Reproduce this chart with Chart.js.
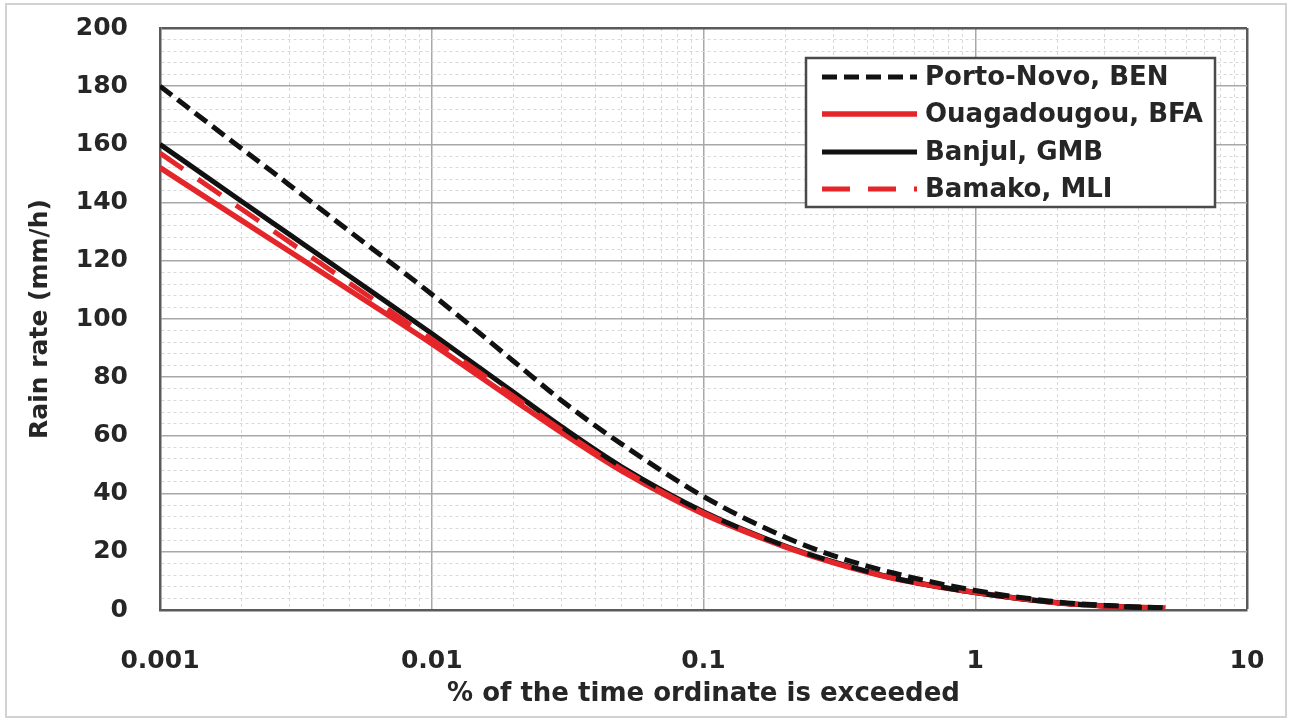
<!DOCTYPE html>
<html>
<head>
<meta charset="utf-8">
<script src="https://cdn.jsdelivr.net/npm/chart.js@4/dist/chart.umd.min.js"></script>
<style>
  html, body { margin: 0; padding: 0; background: #fff; }
  #wrap { width: 1293px; height: 722px; }
</style>
</head>
<body>
<div id="wrap"><canvas id="rainChart" width="1293" height="722"></canvas></div>
<script>
// values
var percent = [0.001, 0.002, 0.003, 0.005, 0.01, 0.02, 0.03, 0.05, 0.1, 0.2, 0.3, 0.5, 1, 2, 3, 5];
var portoNovo = [180, 158.5, 146, 130, 108.5, 85.5, 72, 57, 39, 25, 18.7, 12.7, 6.7, 2.8, 1.6, 0.7];
var ouagadougou = [152, 133.8, 123.2, 109.8, 91.5, 72.2, 61, 47.8, 33, 21.7, 16.3, 10.9, 6, 2.5, 1.4, 0.6];
var banjul = [160, 140.4, 129, 114.6, 95, 74.8, 63, 49.2, 33.8, 22, 16.6, 11, 6, 2.5, 1.4, 0.6];
var bamako = [157, 137.7, 126.4, 112.2, 93, 73.4, 61.9, 48.4, 33.4, 21.8, 16.4, 10.9, 6, 2.5, 1.4, 0.6];

var decades = [0.001, 0.01, 0.1, 1, 10];
var minorSteps = [1, 2, 3, 4, 5, 6, 7, 8, 9];

var fontFamily = '"DejaVu Sans", sans-serif';
var textColor = '#262626';
var red = '#e4262b';

function toPoints(values) {
  return percent.map(function (p, i) { return { x: p, y: values[i] }; });
}

var xTickValues = [];
decades.forEach(function (d, i) {
  if (i === decades.length - 1) { xTickValues.push(d); return; }
  minorSteps.forEach(function (m) { xTickValues.push(+(d * m).toPrecision(3)); });
});

function isDecade(v) { return decades.indexOf(v) !== -1; }

// outer frame of the picture
var framePlugin = {
  id: 'frame',
  beforeDraw: function (chart) {
    var ctx = chart.ctx;
    ctx.save();
    ctx.fillStyle = '#fff';
    ctx.fillRect(0, 0, chart.width, chart.height);
    ctx.strokeStyle = '#d2d2d2';
    ctx.lineWidth = 2;
    ctx.strokeRect(6, 4, chart.width - 13, chart.height - 9);
    ctx.restore();
  }
};

// legend box inside the plot
var legendOrder = [0, 1, 2, 3];
var boxLegend = {
  id: 'boxLegend',
  afterDraw: function (chart) {
    var ctx = chart.ctx;
    var left = 806, top = 58, width = 409, height = 149;
    var rowY = [77, 114, 152, 189];
    ctx.save();
    ctx.fillStyle = '#fff';
    ctx.fillRect(left, top, width, height);
    ctx.strokeStyle = '#4a4a4a';
    ctx.lineWidth = 2.5;
    ctx.strokeRect(left, top, width, height);
    legendOrder.forEach(function (di, r) {
      var ds = chart.data.datasets[di];
      ctx.beginPath();
      ctx.setLineDash(ds.borderDash || []);
      ctx.lineWidth = ds.borderWidth;
      ctx.strokeStyle = ds.borderColor;
      ctx.lineCap = 'butt';
      ctx.moveTo(822, rowY[r]);
      ctx.lineTo(917, rowY[r]);
      ctx.stroke();
      ctx.setLineDash([]);
      ctx.fillStyle = textColor;
      ctx.font = 'bold 26px ' + fontFamily;
      ctx.textBaseline = 'middle';
      ctx.textAlign = 'left';
      ctx.fillText(ds.label, 925, rowY[r] + 1);
    });
    ctx.restore();
  }
};

var ctx = document.getElementById('rainChart');
var rainChart = new Chart(ctx, {
  type: 'line',
  data: {
    datasets: [{
      label: 'Porto-Novo, BEN',
      data: toPoints(portoNovo),
      borderColor: '#111',
      borderWidth: 5,
      borderDash: [15, 7],
      order: 0
    }, {
      label: 'Ouagadougou, BFA',
      data: toPoints(ouagadougou),
      borderColor: red,
      borderWidth: 5.5,
      order: 3
    }, {
      label: 'Banjul, GMB',
      data: toPoints(banjul),
      borderColor: '#111',
      borderWidth: 5,
      order: 2
    }, {
      label: 'Bamako, MLI',
      data: toPoints(bamako),
      borderColor: red,
      borderWidth: 5,
      borderDash: [28, 18],
      order: 1
    }]
  },
  options: {
    responsive: false,
    animation: false,
    events: [],
    elements: {
      point: { radius: 0 },
      line: { cubicInterpolationMode: 'monotone', fill: false }
    },
    layout: { padding: { top: 28, right: 46, left: 0, bottom: 0 } },
    plugins: {
      legend: { display: false },
      tooltip: { enabled: false }
    },
    scales: {
      x: {
        type: 'logarithmic',
        min: 0.001,
        max: 10,
        afterBuildTicks: function (scale) {
          scale.ticks = xTickValues.map(function (v) { return { value: v }; });
        },
        afterFit: function (scale) {
          scale.height = 112;
          scale.paddingLeft = 0;
          scale.paddingRight = 0;
        },
        ticks: {
          autoSkip: false,
          maxRotation: 0,
          padding: 36,
          color: textColor,
          font: { family: fontFamily, size: 25, weight: 'bold' },
          callback: function (v) { return isDecade(v) ? String(v) : ''; }
        },
        grid: {
          drawTicks: false,
          color: function (c) {
            var v = c.tick && c.tick.value;
            if (v === 10) return '#5a5a5a';
            return isDecade(v) ? '#a8a8a8' : '#d8d8d8';
          },
          lineWidth: function (c) {
            var v = c.tick && c.tick.value;
            if (v === 10) return 2.5;
            return isDecade(v) ? 1.5 : 1;
          }
        },
        border: {
          color: '#5a5a5a',
          width: 2.5,
          dash: function (c) {
            return (c.tick && !isDecade(c.tick.value)) ? [3, 3] : [];
          }
        },
        title: {
          display: true,
          text: '% of the time ordinate is exceeded',
          color: textColor,
          font: { family: fontFamily, size: 26, weight: 'bold' },
          padding: { top: 0, bottom: 12 }
        }
      },
      y: {
        min: 0,
        max: 200,
        afterFit: function (scale) {
          scale.width = 160;
          scale.paddingTop = 0;
          scale.paddingBottom = 0;
        },
        ticks: {
          stepSize: 4,
          autoSkip: false,
          padding: 32,
          color: textColor,
          font: { family: fontFamily, size: 25, weight: 'bold' },
          callback: function (v) { return v % 20 === 0 ? v : ''; }
        },
        grid: {
          drawTicks: false,
          color: function (c) {
            var v = c.tick && c.tick.value;
            if (v === 200) return '#5a5a5a';
            return v % 20 === 0 ? '#a8a8a8' : '#d8d8d8';
          },
          lineWidth: function (c) {
            var v = c.tick && c.tick.value;
            if (v === 200) return 2.5;
            return v % 20 === 0 ? 1.5 : 1;
          }
        },
        border: {
          color: '#5a5a5a',
          width: 2.5,
          dash: function (c) {
            return (c.tick && c.tick.value % 20 !== 0) ? [3, 3] : [];
          }
        },
        title: {
          display: true,
          text: 'Rain rate (mm/h)',
          color: textColor,
          font: { family: fontFamily, size: 25, weight: 'bold' },
          padding: { top: 25, bottom: 0 }
        }
      }
    }
  },
  plugins: [framePlugin, boxLegend]
});
</script>
</body>
</html>
